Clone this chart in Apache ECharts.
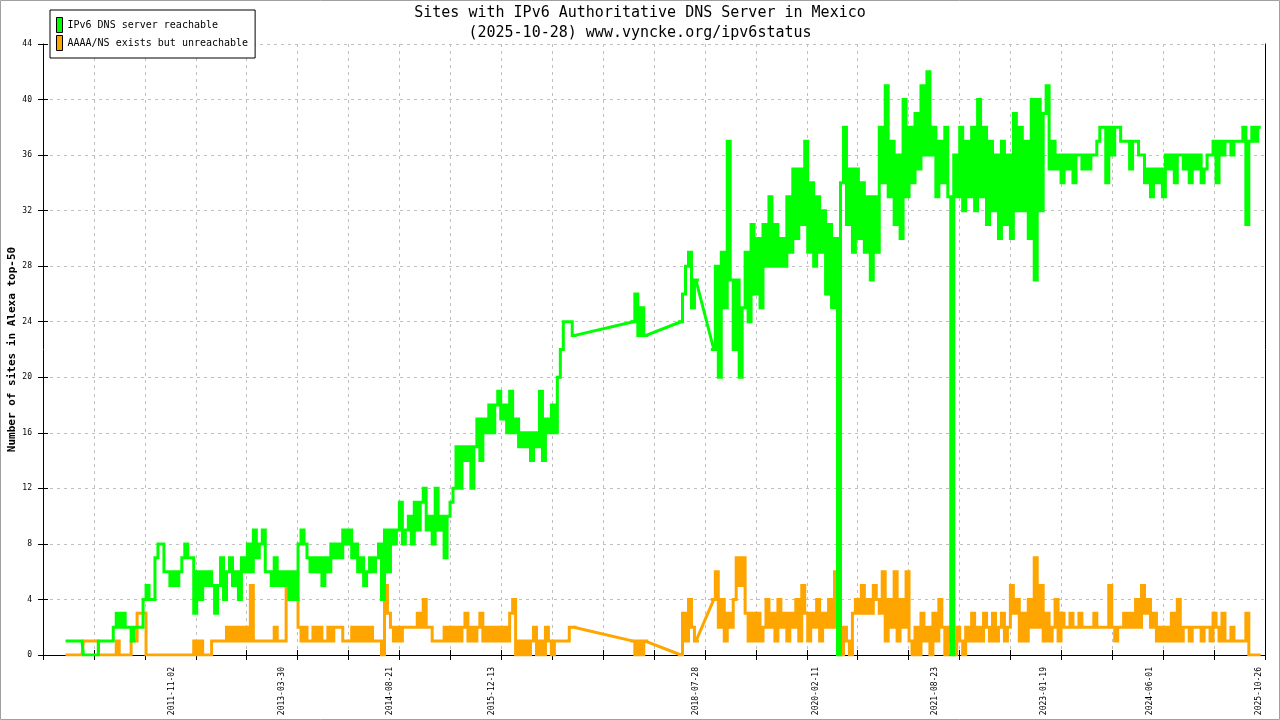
<!DOCTYPE html>
<html>
<head>
<meta charset="utf-8">
<script src="https://cdn.jsdelivr.net/npm/echarts@6/dist/echarts.min.js"></script>
<style>
html,body{margin:0;padding:0;background:#fff;}
#chart{width:1280px;height:720px;}
</style>
</head>
<body>
<div id="chart"></div>
<script>
const titleLines = ['Sites with IPv6 Authoritative DNS Server in Mexico', '(2025-10-28) www.vyncke.org/ipv6status'];
const seriesNames = ['IPv6 DNS server reachable', 'AAAA/NS exists but unreachable'];
const seriesColors = ['#00ff00', '#ffa500'];
const yAxisName = 'Number of sites in Alexa top-50';
const xLabelDates = ['2011-11-02','2013-03-30','2014-08-21','2015-12-13','2018-07-28','2020-02-11','2021-08-23','2023-01-19','2024-06-01','2025-10-26'];
const xRange = ['2010-03-06', '2025-11-22'];
const yMin = 0, yMax = 44, yStep = 4;
const xTickCount = 24;

// samples every 14 days starting at sampleStart; null = no sample (gnuplot bridges the gap with a straight line)
const sampleStart = '2010-06-27';
const sampleStepDays = 14;
const N = null;

const greenValues = [
  1,1,1,1,1,1,0,0,0,0,
  0,1,1,1,1,1,2,3,2,3,
  2,2,1,2,2,2,4,5,4,4,
  7,8,8,6,6,5,6,5,6,7,
  8,7,7,3,6,4,6,5,6,5,
  3,5,7,4,6,7,5,6,4,7,
  6,8,6,9,7,8,9,6,6,5,
  7,5,6,5,6,4,6,4,8,9,
  8,7,6,7,6,7,5,7,6,8,
  7,8,7,9,8,9,7,8,6,7,
  5,6,7,6,7,8,4,9,6,9,
  8,9,11,8,9,10,8,11,9,11,
  12,9,10,8,12,9,10,7,10,11,
  12,15,12,15,14,15,12,15,17,14,
  17,16,18,16,18,19,17,18,16,19,
  16,17,15,16,15,16,14,16,15,19,
  14,17,16,18,16,20,22,24,24,24,
  23,N,N,N,N,N,N,N,N,N,
  N,N,N,N,N,N,N,N,N,N,
  24,26,23,25,23,N,N,N,N,N,
  N,N,N,N,N,N,24,26,28,29,
  25,27,N,N,N,N,N,22,28,20,
  29,25,37,27,22,27,20,25,29,24,
  31,26,30,25,31,28,33,28,31,28,
  30,28,33,29,35,30,35,31,37,29,
  34,28,33,29,32,26,31,25,30,0,
  34,38,31,35,29,35,30,34,29,33,
  27,33,29,38,34,41,33,37,31,36,
  30,40,33,38,34,39,35,41,36,42,
  36,38,33,37,34,38,33,0,36,33,
  38,32,37,33,38,32,40,33,38,31,
  37,32,36,30,37,31,36,30,39,32,
  38,32,37,30,40,27,40,32,39,41,
  35,37,35,36,34,36,35,36,34,36,
  36,35,36,35,36,36,37,38,38,34,
  38,36,38,38,37,37,37,35,37,37,
  36,36,34,35,33,35,34,35,33,36,
  35,36,34,36,36,35,36,34,36,35,
  36,34,35,36,36,37,34,37,36,37,
  37,36,37,37,37,38,31,37,38,37,
  38
];

const orangeValues = [
  0,0,0,0,0,0,1,1,1,1,
  1,0,0,0,0,0,0,1,0,0,
  0,0,1,1,3,3,3,0,0,0,
  0,0,0,0,0,0,0,0,0,0,
  0,0,0,1,0,1,0,0,0,1,
  1,1,1,1,2,1,2,1,2,1,
  2,1,5,1,1,1,1,1,1,1,
  2,1,1,1,5,4,5,4,2,1,
  2,1,1,2,1,2,1,1,2,1,
  2,2,2,1,1,1,2,1,2,1,
  2,1,2,1,1,1,0,5,3,2,
  1,2,1,2,2,2,2,2,3,2,
  4,2,2,1,1,1,1,2,1,2,
  1,2,1,2,3,1,2,1,2,3,
  1,2,1,2,1,2,1,2,1,3,
  4,0,1,0,1,0,1,2,0,1,
  0,2,1,0,1,1,1,1,1,2,
  2,N,N,N,N,N,N,N,N,N,
  N,N,N,N,N,N,N,N,N,N,
  1,0,1,0,1,N,N,N,N,N,
  N,N,N,N,N,N,0,3,1,4,
  2,1,N,N,N,N,N,4,6,2,
  4,1,3,2,4,7,5,7,3,1,
  3,1,3,1,2,4,2,3,1,4,
  2,3,1,3,2,4,1,5,3,1,
  3,2,4,1,3,2,4,2,6,1,
  0,2,1,0,3,4,3,5,3,4,
  3,5,4,3,6,1,4,2,6,1,
  4,2,6,1,0,2,0,3,1,2,
  0,3,1,4,2,0,2,1,0,2,
  1,0,2,1,3,1,2,1,3,2,
  1,3,1,2,3,1,2,5,3,4,
  1,3,1,4,2,7,2,5,1,3,
  1,2,4,1,3,2,2,3,2,2,
  3,2,2,2,2,3,2,2,2,2,
  5,2,1,2,2,3,2,3,2,4,
  2,5,3,4,2,3,1,2,1,2,
  1,3,1,4,1,2,2,1,2,2,
  2,1,2,2,1,3,2,1,3,1,
  1,2,1,1,1,1,3,0,0,0,
  0
];

const DAY = 86400000;
const toTs = s => Date.parse(s + 'T00:00:00Z');
const t0 = toTs(sampleStart);
const sampleDates = greenValues.map((_, i) => t0 + i * sampleStepDays * DAY);
const toPairs = vals => vals.map((v, i) => [sampleDates[i], v === null ? '-' : v]);
// straight connecting segments across runs of missing samples
const bridgePairs = vals => {
  const out = [];
  let i = 0;
  while (i < vals.length) {
    if (vals[i] === null) {
      const s = i;
      while (i < vals.length && vals[i] === null) i++;
      if (s > 0 && i < vals.length) {
        out.push([sampleDates[s - 1], vals[s - 1]], [sampleDates[i], vals[i]], [sampleDates[i], '-']);
      }
    } else i++;
  }
  return out;
};
const fmtDate = v => new Date(v).toISOString().slice(0, 10);

const MONO = "'DejaVu Sans Mono', 'Liberation Mono', monospace";
const gridColor = '#c0c0c0';
const LW = 3;

const chart = echarts.init(document.getElementById('chart'), null, {renderer: 'canvas'});
chart.setOption({
  animation: false,
  backgroundColor: '#ffffff',
  title: {
    text: titleLines.join('\n'),
    left: 'center',
    top: 0,
    padding: 3,
    textStyle: {fontFamily: MONO, fontSize: 15, fontWeight: 'normal', color: '#000', lineHeight: 20}
  },
  legend: {
    data: seriesNames,
    orient: 'vertical',
    left: 50,
    top: 10,
    icon: 'rect',
    itemWidth: 6,
    itemHeight: 15,
    itemGap: 2,
    padding: [7, 7, 7, 6],
    backgroundColor: '#ffffff',
    borderColor: '#000000',
    borderWidth: 1,
    selectedMode: false,
    itemStyle: {borderColor: '#000', borderWidth: 1},
    textStyle: {fontFamily: MONO, fontSize: 10, color: '#000'}
  },
  graphic: [{
    type: 'rect',
    shape: {x: 0.5, y: 0.5, width: 1279, height: 719},
    style: {fill: 'none', stroke: '#a0a0a0', lineWidth: 1},
    silent: true
  }],
  grid: {left: 43, right: 15, top: 44, bottom: 65, containLabel: false, outerBoundsMode: 'none'},
  xAxis: [
    {
      type: 'value',
      min: toTs(xRange[0]),
      max: toTs(xRange[1]),
      position: 'bottom',
      axisLine: {show: true, lineStyle: {color: '#000', width: 1}},
      axisTick: {show: false},
      splitLine: {show: false},
      axisLabel: {
        customValues: xLabelDates.map(toTs),
        rotate: 90,
        margin: 12,
        fontFamily: MONO,
        fontSize: 8,
        color: '#000',
        formatter: v => fmtDate(v)
      }
    },
    {
      type: 'value', min: 0, max: xTickCount, interval: 1, position: 'bottom',
      axisLine: {show: false},
      axisTick: {show: true, length: 5, lineStyle: {color: '#000'}},
      axisLabel: {show: false},
      splitLine: {show: true, lineStyle: {color: gridColor, type: [3, 4], width: 1}}
    },
    {
      type: 'value', min: 0, max: xTickCount, interval: 1, position: 'bottom',
      axisLine: {show: false},
      axisTick: {show: true, inside: true, length: 5, lineStyle: {color: '#000'}},
      axisLabel: {show: false},
      splitLine: {show: false}
    }
  ],
  yAxis: [
    {
      type: 'value', min: yMin, max: yMax, interval: yStep, position: 'left',
      name: yAxisName,
      nameLocation: 'middle',
      nameRotate: 90,
      nameGap: 25,
      nameMoveOverlap: false,
      nameTextStyle: {fontFamily: MONO, fontSize: 11, fontWeight: 'bold', color: '#000'},
      axisLine: {show: true, lineStyle: {color: '#000', width: 1}},
      axisTick: {show: true, length: 5, lineStyle: {color: '#000'}},
      axisLabel: {margin: 11, fontFamily: MONO, fontSize: 8, color: '#000'},
      splitLine: {show: true, lineStyle: {color: gridColor, type: [3, 4], width: 1}}
    },
    {
      type: 'value', min: yMin, max: yMax, interval: yStep, position: 'left',
      axisLine: {show: false},
      axisTick: {show: true, inside: true, length: 5, lineStyle: {color: '#000'}},
      axisLabel: {show: false},
      splitLine: {show: false}
    },
    {
      type: 'value', min: yMin, max: yMax, interval: yStep, position: 'right',
      axisLine: {show: true, lineStyle: {color: '#000', width: 1}},
      axisTick: {show: false},
      axisLabel: {show: false},
      splitLine: {show: false}
    }
  ],
  series: [
    {
      name: seriesNames[0], type: 'line', xAxisIndex: 0, yAxisIndex: 0,
      data: toPairs(greenValues),
      step: 'middle', showSymbol: false, symbol: 'none', connectNulls: false, z: 3,
      itemStyle: {color: seriesColors[0]},
      lineStyle: {color: seriesColors[0], width: LW, join: 'miter', cap: 'square'}
    },
    {
      name: seriesNames[1], type: 'line', xAxisIndex: 0, yAxisIndex: 0,
      data: toPairs(orangeValues),
      step: 'middle', showSymbol: false, symbol: 'none', connectNulls: false, z: 2,
      itemStyle: {color: seriesColors[1]},
      lineStyle: {color: seriesColors[1], width: LW, join: 'miter', cap: 'square'}
    },
    {
      name: seriesNames[0] + ' gaps', type: 'line', xAxisIndex: 0, yAxisIndex: 0,
      data: bridgePairs(greenValues),
      showSymbol: false, symbol: 'none', connectNulls: false, z: 3,
      itemStyle: {color: seriesColors[0]},
      lineStyle: {color: seriesColors[0], width: LW}
    },
    {
      name: seriesNames[1] + ' gaps', type: 'line', xAxisIndex: 0, yAxisIndex: 0,
      data: bridgePairs(orangeValues),
      showSymbol: false, symbol: 'none', connectNulls: false, z: 2,
      itemStyle: {color: seriesColors[1]},
      lineStyle: {color: seriesColors[1], width: LW}
    }
  ]
});
</script>
</body>
</html>
